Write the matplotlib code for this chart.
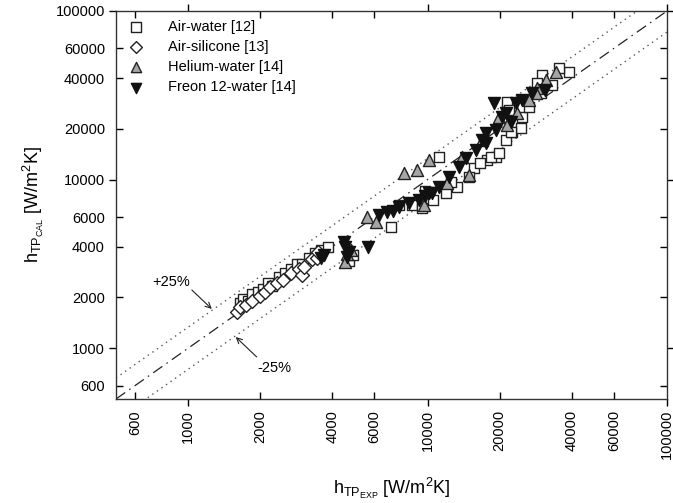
import matplotlib
matplotlib.use("Agg")
import matplotlib.pyplot as plt
from matplotlib.ticker import FixedLocator, FixedFormatter
import numpy as np

plt.rcParams['font.family'] = ['Liberation Sans', 'DejaVu Sans']
plt.rcParams['mathtext.fontset'] = 'custom'
plt.rcParams['mathtext.rm'] = 'Liberation Sans'
plt.rcParams['mathtext.it'] = 'Liberation Sans'

# ---- data ----
air_water_x = [1650, 1700, 1780, 1850, 1950, 2050, 2150, 2250, 2400, 2550, 2700, 2850, 3000, 3200,
               3400, 3600, 3850, 4700, 4860, 7060, 7630, 8640, 9510, 11200, 11970, 13300, 12560,
               15660, 14930, 17740, 19340, 21290, 22550, 38990, 35400, 30060, 28650, 29780, 21480,
               21930, 24830, 24600, 22340, 18450, 19900, 10500, 9800, 16500, 26500, 33000]
air_water_y = [1850, 1950, 1900, 2100, 2150, 2250, 2450, 2350, 2650, 2800, 2950, 3150, 3150, 3450,
               3650, 3800, 4000, 3300, 3570, 5240, 7080, 7080, 6790, 13600, 8330, 9040, 9680,
               11720, 10370, 13080, 13620, 17180, 19170, 43510, 45920, 41780, 37420, 32660, 28890,
               25880, 23550, 20240, 19170, 13620, 14390, 7600, 8600, 12500, 27000, 36500]

air_silicone_x = [1600, 1650, 1750, 1850, 2000, 2100, 2200, 2350, 2500, 2700, 2900, 2980, 3050,
                  3300, 3440, 3500]
air_silicone_y = [1650, 1750, 1800, 1900, 2050, 2150, 2300, 2450, 2550, 2800, 2950, 2720, 3050,
                  3400, 3430, 3700]

helium_x = [4810, 4590, 4500, 5610, 6120, 8000, 9060, 10160, 13960, 14930, 16900, 19900, 34400,
            28650, 28400, 26550, 23660, 31240, 9690, 12000, 21500]
helium_y = [3830, 3620, 3250, 6010, 5610, 10900, 11400, 13100, 13620, 10660, 17180, 23550, 43510,
            34990, 32660, 29680, 24850, 38990, 7080, 9500, 21000]

freon_x = [3600, 3700, 4500, 4590, 4720, 4460, 5650, 6300, 6800, 7630, 8390, 9240, 10170, 10470,
           11200, 12320, 13560, 15970, 17570, 19340, 21290, 18970, 20490, 23440, 24830, 22340,
           17570, 16900, 27330, 31000, 7200, 9800, 14500]
freon_y = [3430, 3550, 3990, 3480, 3720, 4270, 3990, 6170, 6430, 6880, 7270, 7570, 8330, 8330,
           9040, 10370, 11890, 15000, 16490, 19700, 24850, 28490, 23550, 28490, 29680, 21980,
           18900, 17180, 32660, 34000, 6500, 8000, 13500]

series_labels = ['Air-water [12]', 'Air-silicone [13]', 'Helium-water [14]', 'Freon 12-water [14]']

major_ticks = [1000, 10000, 100000]
minor_ticks = [600, 2000, 4000, 6000, 20000, 40000, 60000]
axis_min, axis_max = 500, 100000

# ---- figure ----
fig = plt.figure(figsize=(6.73, 5.03), dpi=100)
ax = fig.add_axes([116/673, 104/503, 551/673, 388/503])
ax.set_xscale('log')
ax.set_yscale('log')
ax.set_xlim(axis_min, axis_max)
ax.set_ylim(axis_min, axis_max)

# reference lines
ref = np.array([axis_min, axis_max], dtype=float)
ax.plot(ref, ref, color='#222222', lw=0.9, linestyle=(0, (9, 4, 1.2, 4)), zorder=1)
ax.plot(ref, ref / 0.75, color='#555555', lw=1.0, linestyle=(0, (1, 3)), zorder=1)
ax.plot(ref, ref * 0.75, color='#555555', lw=1.0, linestyle=(0, (1, 3)), zorder=1)

ax.scatter(air_water_x, air_water_y, marker='s', s=62, facecolor='white', edgecolor='#222222',
           linewidth=1.0, label=series_labels[0], zorder=3)
ax.scatter(air_silicone_x, air_silicone_y, marker='D', s=50, facecolor='white', edgecolor='#222222',
           linewidth=1.0, label=series_labels[1], zorder=3)
ax.scatter(helium_x, helium_y, marker='^', s=75, facecolor='#a5a5a5', edgecolor='#222222',
           linewidth=1.0, label=series_labels[2], zorder=4)
ax.scatter(freon_x, freon_y, marker='v', s=75, facecolor='#111111', edgecolor='#111111',
           linewidth=1.0, label=series_labels[3], zorder=4)

# ticks
for axis in (ax.xaxis, ax.yaxis):
    axis.set_major_locator(FixedLocator(major_ticks))
    axis.set_minor_locator(FixedLocator(minor_ticks))
    axis.set_major_formatter(FixedFormatter([str(t) for t in major_ticks]))
    axis.set_minor_formatter(FixedFormatter([str(t) for t in minor_ticks]))
ax.tick_params(which='major', direction='out', length=5, width=1.0, labelsize=10.5,
               top=True, right=True, pad=3)
ax.tick_params(which='minor', direction='in', length=5, width=1.0, labelsize=10.5,
               top=True, right=True, pad=8)
ax.tick_params(axis='x', which='both', labelrotation=90)

for sp in ax.spines.values():
    sp.set_linewidth(1.0)
    sp.set_color('#333333')

ax.set_xlabel(r'h$_{\mathregular{TP}_{\mathregular{EXP}}}$ [W/m$^{\mathregular{2}}$K]', fontsize=13, labelpad=12)
ax.set_ylabel(r'h$_{\mathregular{TP}_{\mathregular{CAL}}}$ [W/m$^{\mathregular{2}}$K]', fontsize=13, labelpad=7)

leg = ax.legend(loc='upper left', bbox_to_anchor=(0.005, 1.003), frameon=False, fontsize=10.5,
                handlelength=1.0, handletextpad=1.7, labelspacing=0.42, borderaxespad=0.3,
                markerscale=0.85)

# annotations
ax.text(848, 2473, '+25%', fontsize=10.5, ha='center', va='center')
ax.annotate('', xy=(1256, 1710), xytext=(1037, 2215),
            arrowprops=dict(arrowstyle='->', lw=0.8, color='#222222', shrinkA=0, shrinkB=0))
ax.text(2299, 764, '-25%', fontsize=10.5, ha='center', va='center')
ax.annotate('', xy=(1581, 1166), xytext=(1934, 888),
            arrowprops=dict(arrowstyle='->', lw=0.8, color='#222222', shrinkA=0, shrinkB=0))

fig.savefig('out.png', dpi=100)
